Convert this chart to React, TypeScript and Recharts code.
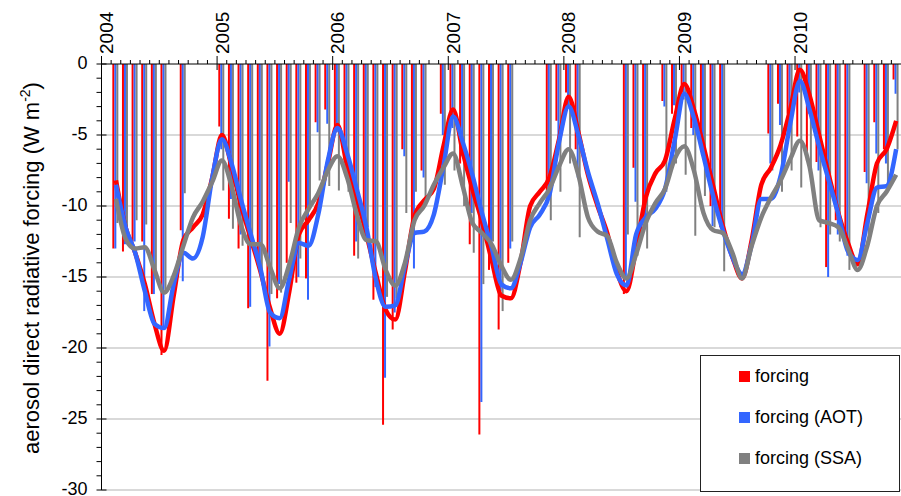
import React from "react";
import {
  ComposedChart,
  Bar,
  Line,
  XAxis,
  YAxis,
  CartesianGrid,
  Legend,
} from "recharts";

// monthly values, Jan 2004 .. Nov 2010 (83 months), W m-2
const YEARS = ["2004", "2005", "2006", "2007", "2008", "2009", "2010"];
const MONTHS = YEARS.flatMap((y) =>
  ["01", "02", "03", "04", "05", "06", "07", "08", "09", "10", "11", "12"].map((m) => `${y}-${m}`)
).slice(0, 83);

const FORCING = [
  null, -13.0, -13.2, -12.5, -12.5, -16.2, -20.5, null, -11.7, null, null, null,
  -4.4, -10.9, -13.0, -17.2, -13.5, -22.3, -16.5, -14.0, -15.4, -15.1, -4.1, -3.2,
  -4.4, -6.8, -13.5, -11.5, -16.6, -25.4, -18.7, -6.0, -12.0, -7.5, null, -3.5,
  -4.0, -7.0, -12.7, -26.1, -14.5, -18.7, -14.0, null, null, null, -8.9, -4.0,
  -2.0, -6.0, null, null, null, null, -16.2, -7.3, -10.0, null, -2.6, -3.5,
  -1.5, -4.5, -5.6, -10.0, -11.5, null, null, null, null, -4.9, -2.8, -3.5,
  -5.1, -6.8, -6.9, -14.3, -11.0, -11.9, null, -7.6, -4.1, -6.0, -1.1,
];
const FORCING_AOT = [
  null, -13.0, -12.7, -12.5, -17.4, -16.2, -18.5, null, -15.3, null, null, null,
  -6.0, -9.5, -12.0, -17.1, -14.0, -19.9, -15.5, -8.3, -15.0, -16.6, -4.8, -4.2,
  -4.8, -6.5, -12.5, -12.0, -15.7, -22.1, -17.5, -6.5, -14.4, -8.0, null, -5.0,
  -4.5, -6.5, -10.5, -23.8, -14.0, -16.0, -13.0, null, null, null, -9.5, -6.0,
  -3.0, -8.0, null, null, null, null, -15.0, -9.7, -11.0, null, -3.0, -2.9,
  -2.5, -5.0, -6.5, -11.4, -12.0, null, null, null, null, -7.0, -4.3, -4.5,
  -2.0, -3.5, -7.5, -15.0, -12.0, -13.5, null, -8.4, -6.3, -7.0, -2.1,
];
const FORCING_SSA = [
  null, -11.2, -12.0, -11.0, -11.3, -14.5, -16.2, null, -9.1, null, null, null,
  -8.9, -11.6, -12.8, -12.8, -14.5, -16.2, -16.1, -11.2, -13.7, -10.0, -8.2, -8.6,
  -8.9, -9.0, -13.7, -11.5, -12.5, -16.4, -16.5, -10.5, -9.0, -9.5, null, -8.5,
  -7.5, -10.0, -13.3, -15.5, -12.5, -17.4, -12.5, null, null, null, -11.0, -9.0,
  -7.0, -12.2, null, null, null, null, -12.0, -13.5, -13.0, null, -9.0, -7.0,
  -7.8, -12.1, -9.3, -11.5, -14.6, null, null, null, null, -7.5, -9.0, -7.5,
  -8.7, -8.0, -11.5, -12.0, -12.5, -14.5, null, -12.0, -10.5, -8.5, -6.0,
];

// smoothed curves
const SMOOTH = [
  null, -8.2, -11.5, -13.3, -15.5, -18.3, -20.2, -16.3, -12.4, -11.5, -10.6, -8.0,
  -5.0, -7.2, -10.0, -12.3, -14.6, -17.2, -19.0, -16.0, -12.0, -11.0, -9.8, -7.0,
  -4.3, -7.2, -9.5, -12.0, -14.8, -17.3, -18.0, -14.6, -10.7, -9.6, -8.8, -5.8,
  -3.2, -6.2, -8.8, -11.1, -13.8, -16.3, -16.5, -14.0, -10.0, -9.0, -8.0, -5.3,
  -2.3, -4.8, -7.8, -10.0, -11.9, -14.6, -16.0, -13.0, -9.4, -7.7, -6.8, -3.9,
  -1.4, -3.2, -5.8, -8.6, -11.4, -13.6, -15.1, -12.4, -8.5, -7.3, -5.7, -3.2,
  -0.4, -2.2, -5.0, -7.8, -10.5, -12.6, -14.1, -10.6, -7.0, -6.0, -4.0,
];
const SMOOTH_AOT = [
  null, -8.5, -11.5, -13.3, -16.0, -18.3, -18.6, -15.5, -13.3, -13.7, -12.2, -8.0,
  -5.3, -7.0, -9.6, -12.0, -14.4, -17.5, -17.9, -15.1, -12.6, -12.8, -10.6, -6.8,
  -4.5, -6.3, -8.8, -11.5, -15.2, -17.1, -17.0, -14.2, -11.9, -11.8, -10.6, -7.2,
  -3.7, -5.5, -7.8, -10.5, -12.9, -15.5, -15.8, -14.0, -11.5, -10.6, -9.2, -5.5,
  -3.0, -5.0, -7.6, -9.8, -12.3, -14.8, -15.6, -12.0, -10.8, -10.2, -8.8, -5.4,
  -2.1, -3.8, -6.5, -9.3, -11.7, -13.6, -14.8, -12.7, -9.5, -9.5, -7.9, -4.2,
  -1.2, -3.2, -5.8, -8.2, -10.6, -13.2, -13.8, -11.2, -8.7, -8.6, -6.0,
];
const SMOOTH_SSA = [
  null, -9.5, -12.3, -13.0, -12.9, -14.5, -16.1, -14.9, -12.8, -10.8, -9.7, -8.3,
  -6.8, -8.6, -11.4, -12.7, -12.7, -14.3, -15.8, -14.1, -11.5, -10.2, -9.1, -7.5,
  -6.5, -8.0, -10.6, -12.4, -12.5, -14.5, -15.6, -14.0, -11.0, -10.0, -8.5, -7.3,
  -6.3, -8.6, -11.2, -11.9, -12.7, -14.2, -15.2, -13.7, -11.0, -9.8, -8.8, -7.2,
  -6.0, -7.8, -10.8, -11.8, -12.1, -14.0, -15.1, -13.4, -11.2, -9.8, -8.8, -6.7,
  -5.8, -7.5, -10.5, -11.7, -11.9, -13.3, -15.1, -12.8, -10.8, -9.4, -8.2, -6.7,
  -5.4, -7.2, -11.0, -11.2, -11.5, -13.0, -14.5, -12.8, -10.0, -9.0, -7.8,
];

const Y_TICKS = Array.from({ length: 31 }, (_, i) => -i);
const GRID_VALUES = [-5, -10, -15, -20, -25, -30];

const SERIES = [
  { name: "forcing", color: "#ff0000" },
  { name: "forcing (AOT)", color: "#3366ff" },
  { name: "forcing (SSA)", color: "#808080" },
];

const data = MONTHS.map((month, i) => ({
  month,
  forcing: FORCING[i],
  aot: FORCING_AOT[i],
  ssa: FORCING_SSA[i],
  smooth: SMOOTH[i],
  smoothAot: SMOOTH_AOT[i],
  smoothSsa: SMOOTH_SSA[i],
}));

const W = 901;
const H = 496;
const LEFT = 101.5;
const TOP = 64;
const BAND = (W - LEFT) / MONTHS.length;
const FONT = "Arial, 'Liberation Sans', sans-serif";

const MonthTick = (props: any) => {
  const { x, payload } = props;
  const edge = x - BAND / 2;
  const value: string = payload.value;
  const isYear = value.endsWith("-01");
  return (
    <g>
      <line
        x1={edge}
        x2={edge}
        y1={isYear ? TOP - 8 : TOP - 4}
        y2={isYear ? TOP + 6 : TOP}
        stroke="#000"
        strokeWidth={1}
      />
      {isYear && (
        <text
          transform={`translate(${edge + 11.5},${TOP - 10}) rotate(-90)`}
          fontSize={19}
          fontFamily={FONT}
          fill="#000"
        >
          {value.slice(0, 4)}
        </text>
      )}
    </g>
  );
};

const ValueTick = (props: any) => {
  const { y, payload } = props;
  const v: number = payload.value;
  const major = v % 5 === 0;
  return (
    <g>
      <line
        x1={LEFT - 5}
        x2={major ? LEFT + 5 : LEFT}
        y1={y}
        y2={y}
        stroke="#000"
        strokeWidth={1}
      />
      {major && (
        <text
          x={LEFT - 14}
          y={y}
          dy="0.3em"
          textAnchor="end"
          fontSize={18}
          fontFamily={FONT}
          fill="#000"
        >
          {v}
        </text>
      )}
    </g>
  );
};

const AxisTitle = () => (
  <text
    transform={`translate(39,268) rotate(-90)`}
    textAnchor="middle"
    fontSize={22}
    fontFamily={FONT}
    fill="#000"
  >
    aerosol direct radiative forcing (W m
    <tspan dy={-9} fontSize={14}>-2</tspan>
    <tspan dy={9}>)</tspan>
  </text>
);

const LegendBox = () => (
  <div
    style={{
      width: 200,
      height: 137,
      boxSizing: "border-box",
      border: "1px solid #222",
      background: "#fff",
      position: "relative",
      fontFamily: FONT,
      fontSize: 18,
      color: "#000",
    }}
  >
    {SERIES.map((s, i) => (
      <div
        key={s.name}
        style={{
          position: "absolute",
          left: 38,
          top: 10 + i * 41,
          display: "flex",
          alignItems: "center",
          whiteSpace: "nowrap",
        }}
      >
        <span
          style={{
            display: "inline-block",
            width: 11,
            height: 11,
            background: s.color,
            marginRight: 5,
          }}
        />
        {s.name}
      </div>
    ))}
  </div>
);

export default function App() {
  return (
    <div style={{ position: "absolute", left: 0, top: 0, width: W, height: H, background: "#fff" }}>
      <ComposedChart
        width={W}
        height={H}
        data={data}
        margin={{ top: TOP - 40, right: 0, bottom: 6, left: LEFT - 60 }}
        barCategoryGap="12.5%"
        barGap={0}
      >
        <CartesianGrid
          vertical={false}
          horizontalValues={GRID_VALUES}
          stroke="#d9d9d9"
          strokeWidth={2}
        />
        <XAxis
          dataKey="month"
          orientation="top"
          height={40}
          interval={0}
          tickLine={false}
          axisLine={{ stroke: "#000" }}
          tick={<MonthTick />}
        />
        <YAxis
          width={60}
          domain={[-30, 0]}
          ticks={Y_TICKS}
          interval={0}
          allowDataOverflow
          tickLine={false}
          axisLine={{ stroke: "#000" }}
          tick={<ValueTick />}
          label={<AxisTitle />}
        />
        <Bar dataKey="forcing" fill="#ff0000" isAnimationActive={false} />
        <Bar dataKey="aot" fill="#3366ff" isAnimationActive={false} />
        <Bar dataKey="ssa" fill="#808080" isAnimationActive={false} />
        <Line type="monotone" dataKey="smooth" stroke="#ff0000" strokeWidth={4.5} dot={false} isAnimationActive={false} />
        <Line type="monotone" dataKey="smoothAot" stroke="#3366ff" strokeWidth={4.5} dot={false} isAnimationActive={false} />
        <Line type="monotone" dataKey="smoothSsa" stroke="#808080" strokeWidth={4.5} dot={false} isAnimationActive={false} />
        <Legend
          layout="horizontal"
          verticalAlign="middle"
          align="center"
          wrapperStyle={{ position: "absolute", left: 700, top: 355, width: 200, height: 137 }}
          content={<LegendBox />}
        />
      </ComposedChart>
    </div>
  );
}
